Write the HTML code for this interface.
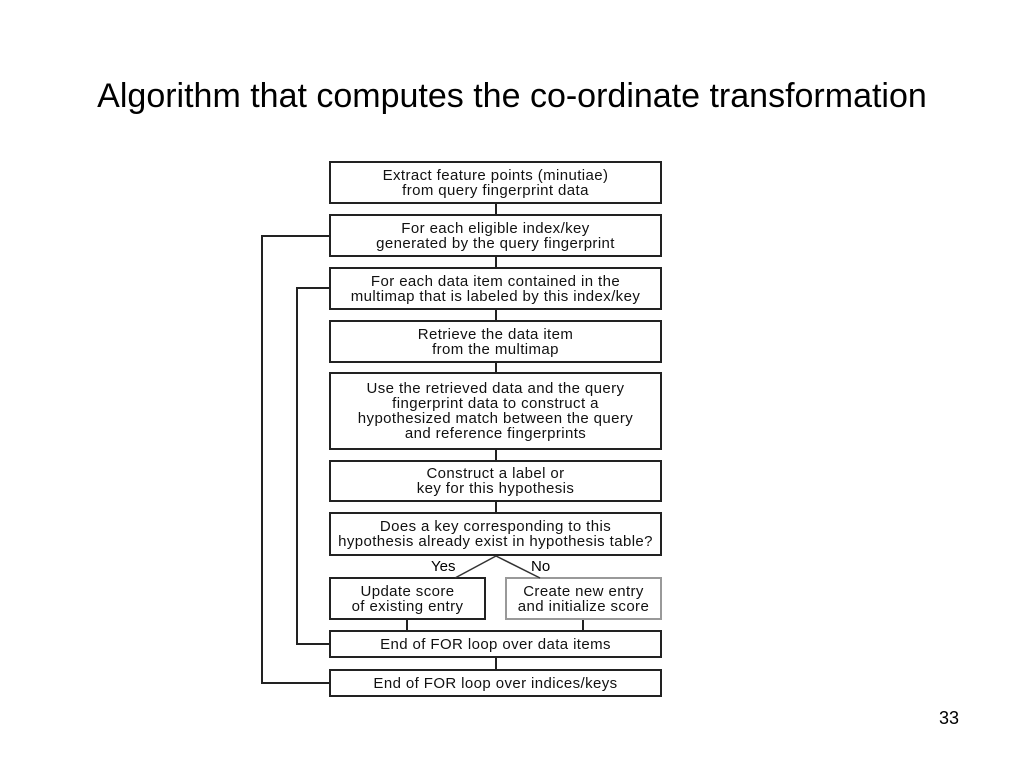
<!DOCTYPE html>
<html><head><style>
body{margin:0;width:1024px;height:768px;background:#fff;position:relative;overflow:hidden;font-family:"Liberation Sans",Arial,sans-serif}
.t{position:absolute;left:0;width:1024px;text-align:center;top:77px;font-size:34px;color:#000}
.b{position:absolute;box-sizing:border-box;border:2px solid #222;display:flex;align-items:center;justify-content:center;text-align:center;font-size:15px;line-height:15px;letter-spacing:0.4px;color:#111}
.l{position:absolute;background:#222}
</style></head><body>
<div class="t">Algorithm that computes the co-ordinate transformation</div>
<div class="b" style="left:329px;top:161px;width:333px;height:43px">Extract feature points (minutiae)<br>from query fingerprint data</div>
<div class="b" style="left:329px;top:214px;width:333px;height:43px">For each eligible index/key<br>generated by the query fingerprint</div>
<div class="b" style="left:329px;top:267px;width:333px;height:43px">For each data item contained in the<br>multimap that is labeled by this index/key</div>
<div class="b" style="left:329px;top:320px;width:333px;height:43px">Retrieve the data item<br>from the multimap</div>
<div class="b" style="left:329px;top:372px;width:333px;height:78px">Use the retrieved data and the query<br>fingerprint data to construct a<br>hypothesized match between the query<br>and reference fingerprints</div>
<div class="b" style="left:329px;top:460px;width:333px;height:42px">Construct a label or<br>key for this hypothesis</div>
<div class="b" style="left:329px;top:512px;width:333px;height:44px">Does a key corresponding to this<br>hypothesis already exist in hypothesis table?</div>
<div class="b" style="left:329px;top:577px;width:157px;height:43px">Update score<br>of existing entry</div>
<div class="b" style="left:505px;top:577px;width:157px;height:43px;border-color:#999">Create new entry<br>and initialize score</div>
<div class="b" style="left:329px;top:630px;width:333px;height:28px">End of FOR loop over data items</div>
<div class="b" style="left:329px;top:669px;width:333px;height:28px">End of FOR loop over indices/keys</div>
<div class="l" style="left:495px;top:204px;width:2px;height:10px"></div>
<div class="l" style="left:495px;top:257px;width:2px;height:10px"></div>
<div class="l" style="left:495px;top:310px;width:2px;height:10px"></div>
<div class="l" style="left:495px;top:363px;width:2px;height:9px"></div>
<div class="l" style="left:495px;top:450px;width:2px;height:10px"></div>
<div class="l" style="left:495px;top:502px;width:2px;height:10px"></div>
<div class="l" style="left:406px;top:620px;width:2px;height:10px"></div>
<div class="l" style="left:582px;top:620px;width:2px;height:10px"></div>
<div class="l" style="left:495px;top:658px;width:2px;height:11px"></div>
<div class="l" style="left:261px;top:235px;width:68px;height:2px"></div>
<div class="l" style="left:261px;top:235px;width:2px;height:449px"></div>
<div class="l" style="left:261px;top:682px;width:68px;height:2px"></div>
<div class="l" style="left:296px;top:287px;width:33px;height:2px"></div>
<div class="l" style="left:296px;top:287px;width:2px;height:358px"></div>
<div class="l" style="left:296px;top:643px;width:33px;height:2px"></div>
<svg style="position:absolute;left:0;top:0" width="1024" height="768"><line x1="496" y1="556" x2="455" y2="578" stroke="#333" stroke-width="1.5"/><line x1="496" y1="556" x2="540" y2="578" stroke="#333" stroke-width="1.5"/></svg>
<div style="position:absolute;left:431px;top:558px;font-size:15px">Yes</div>
<div style="position:absolute;left:531px;top:558px;font-size:15px">No</div>
<div style="position:absolute;left:939px;top:708px;font-size:18px">33</div>
</body></html>
